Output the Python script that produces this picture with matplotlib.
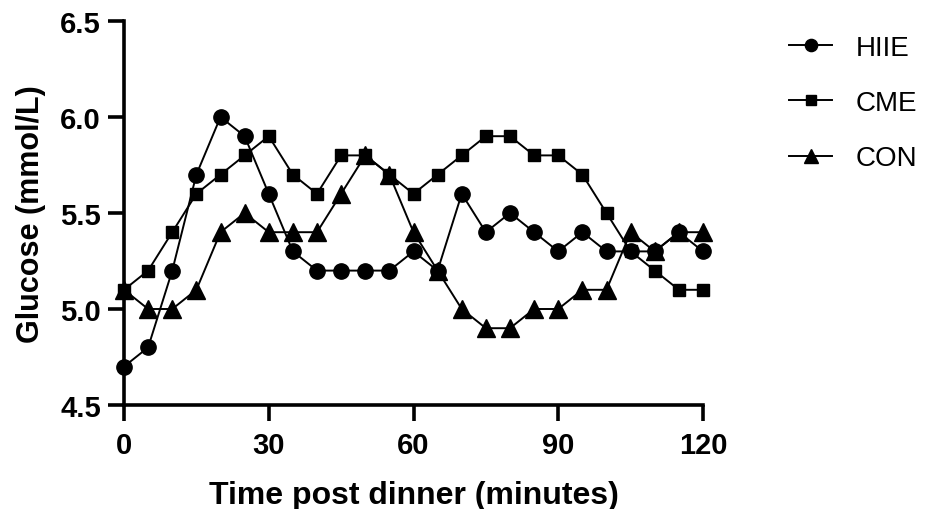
import numpy as np
from matplotlib import pyplot as plt

plt.rcParams['font.family'] = ['Liberation Sans', 'DejaVu Sans']

# Data
time = [0, 5, 10, 15, 20, 25, 30, 35, 40, 45, 50, 55, 60,
        65, 70, 75, 80, 85, 90, 95, 100, 105, 110, 115, 120]
hiie = [4.7, 4.8, 5.2, 5.7, 6.0, 5.9, 5.6, 5.3, 5.2, 5.2, 5.2, 5.2, 5.3,
        5.2, 5.6, 5.4, 5.5, 5.4, 5.3, 5.4, 5.3, 5.3, 5.3, 5.4, 5.3]
cme = [5.1, 5.2, 5.4, 5.6, 5.7, 5.8, 5.9, 5.7, 5.6, 5.8, 5.8, 5.7, 5.6,
       5.7, 5.8, 5.9, 5.9, 5.8, 5.8, 5.7, 5.5, 5.3, 5.2, 5.1, 5.1]
con = [5.1, 5.0, 5.0, 5.1, 5.4, 5.5, 5.4, 5.4, 5.4, 5.6, 5.8, 5.7, 5.4,
       5.2, 5.0, 4.9, 4.9, 5.0, 5.0, 5.1, 5.1, 5.4, 5.3, 5.4, 5.4]
labels = ['HIIE', 'CME', 'CON']
xticks = [0, 30, 60, 90, 120]
yticks = [4.5, 5.0, 5.5, 6.0, 6.5]

fig = plt.figure(figsize=(9.26, 5.1), dpi=100)
ax = fig.add_axes([124 / 926, 1 - 406 / 510, (703 - 124) / 926, (406 - 22) / 510])

ax.plot(time, hiie, color='black', lw=1.4, marker='o', ms=11, clip_on=False, label=labels[0])
ax.plot(time, cme, color='black', lw=1.4, marker='s', ms=8.5, clip_on=False, label=labels[1])
ax.plot(time, con, color='black', lw=1.4, marker='^', ms=12.5, clip_on=False, label=labels[2])

ax.set_xlim(0, 120)
ax.set_ylim(4.5, 6.5)
ax.set_xticks(xticks)
ax.set_yticks(yticks)
ax.set_yticklabels(['%.1f' % v for v in yticks])
ax.spines['top'].set_visible(False)
ax.spines['right'].set_visible(False)
for s in ['left', 'bottom']:
    ax.spines[s].set_linewidth(2.6)
ax.tick_params(width=2.6, length=11.5, labelsize=21, pad=5)
ax.tick_params(axis='x', pad=7)
for lab in ax.get_xticklabels() + ax.get_yticklabels():
    lab.set_fontweight('bold')

ax.set_xlabel('Time post dinner (minutes)', fontsize=23, fontweight='bold', labelpad=15)
ax.set_ylabel('Glucose (mmol/L)', fontsize=22, fontweight='bold', labelpad=10)

ax.legend(loc='upper left', bbox_to_anchor=(789 / 926, 1 - 36 / 510),
          bbox_transform=fig.transFigure, frameon=False, fontsize=20,
          borderpad=0, borderaxespad=0, handlelength=1.55, handletextpad=0.85,
          labelspacing=1.05, markerscale=0.8)

plt.savefig('out.png', dpi=100)
